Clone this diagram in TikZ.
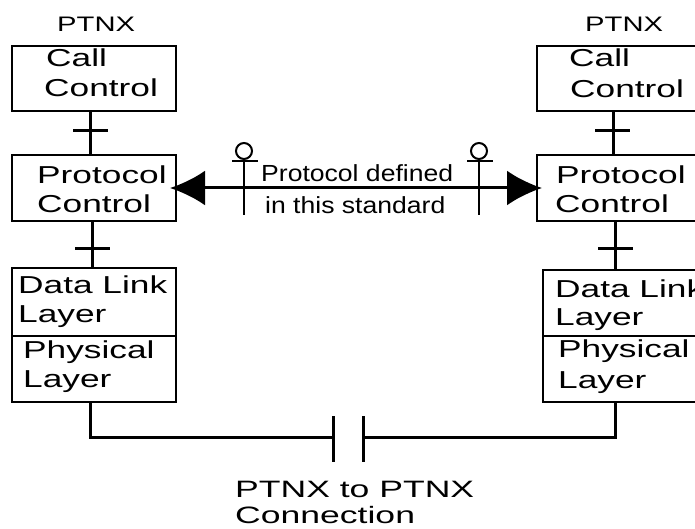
\documentclass[tikz,border=0pt]{standalone}
\usepackage{fontspec}
\setmainfont{Liberation Sans}
\newfontfamily\boxfont[FakeStretch=1.44]{Liberation Sans}
\newfontfamily\widefont[FakeStretch=1.5]{Liberation Sans}
\newfontfamily\topfont[FakeStretch=1.39]{Liberation Sans}
\newfontfamily\tightfont[FakeStretch=1.14]{Liberation Sans}
\usetikzlibrary{arrows.meta}
\begin{document}
\begin{tikzpicture}[x=1pt,y=-1pt,
  box/.style={draw,line width=2pt,inner sep=0pt,outer sep=0pt,anchor=north west},
  conn/.style={line width=3pt},
  thin/.style={line width=2.2pt},
  lbl/.style={anchor=base west,inner sep=0pt,font=\boxfont\fontsize{24.5}{24.5}\selectfont},
  toplbl/.style={anchor=base west,inner sep=0pt,font=\topfont\fontsize{21}{21}\selectfont},
  botlbl/.style={anchor=base west,inner sep=0pt,font=\widefont\fontsize{23.7}{23.7}\selectfont},
  midlbl/.style={anchor=base west,inner sep=0pt,font=\tightfont\fontsize{23.3}{23.3}\selectfont},
  head/.style={draw,circle,line width=2pt,minimum size=16pt,inner sep=0pt}]
\useasboundingbox (0,0) rectangle (695,529);
\clip (0,0) rectangle (695,529);
\fill[white] (0,0) rectangle (695,529);

% ---------- left stack ----------
\node[toplbl] (lptnx) at (57,32) {PTNX};
\node[box,minimum width=164pt,minimum height=65pt] (lcc) at (12,46) {};
\node[lbl] (lcc1) at (46,67) {Call};
\node[lbl] (lcc2) at (44,97) {Control};
\node[box,minimum width=164pt,minimum height=66pt] (lpc) at (12,155) {};
\node[lbl] (lpc1) at (37,184) {Protocol};
\node[lbl] (lpc2) at (37,213) {Control};
\node[box,minimum width=164pt,minimum height=68pt] (ldl) at (12,268) {};
\node[lbl] (ldl1) at (18,293) {Data Link};
\node[lbl] (ldl2) at (18,322) {Layer};
\node[box,minimum width=164pt,minimum height=66pt] (lph) at (12,336) {};
\node[lbl] (lph1) at (23,358) {Physical};
\node[lbl] (lph2) at (23,387) {Layer};

\draw[conn] (90,0 |- lcc.south) -- (90,0 |- lpc.north);
\draw[conn] (73,131) -- (108,131);
\draw[conn] (92,0 |- lpc.south) -- (92,0 |- ldl.north);
\draw[conn] (75,248) -- (110,248);

% ---------- right stack ----------
\node[toplbl] (rptnx) at (585,32) {PTNX};
\node[box,minimum width=164pt,minimum height=65pt] (rcc) at (537,46) {};
\node[lbl] (rcc1) at (569,67) {Call};
\node[lbl] (rcc2) at (570,98) {Control};
\node[box,minimum width=164pt,minimum height=66pt] (rpc) at (537,155) {};
\node[lbl] (rpc1) at (556,184) {Protocol};
\node[lbl] (rpc2) at (555,213) {Control};
\node[box,minimum width=164pt,minimum height=66pt] (rdl) at (543,270) {};
\node[lbl] (rdl1) at (555,297) {Data Link};
\node[lbl] (rdl2) at (555,325) {Layer};
\node[box,minimum width=164pt,minimum height=66pt] (rph) at (543,336) {};
\node[lbl] (rph1) at (558,357) {Physical};
\node[lbl] (rph2) at (558,388) {Layer};

\draw[conn] (613,0 |- rcc.south) -- (613,0 |- rpc.north);
\draw[conn] (595,131) -- (630,131);
\draw[conn] (615,0 |- rpc.south) -- (615,0 |- rdl.north);
\draw[conn] (598,248) -- (633,248);

% ---------- protocol arrow ----------
\coordinate (al) at (170,188);
\coordinate (ar) at (542,188);
\draw[conn,{Latex[length=35pt,width=35pt]}-{Latex[length=35pt,width=35pt]}] (al) -- (ar);

\node[head] (lh) at (244,151) {};
\draw[thin] (232,161) -- (258,161);
\draw[thin] (lh.south) -- (244,215);
\node[head] (rh) at (479,151) {};
\draw[thin] (467,161) -- (493,161);
\draw[thin] (rh.south) -- (479,215);

\node[midlbl] (pd1) at (261,182) {Protocol defined};
\node[midlbl] (pd2) at (265,214) {in this standard};

% ---------- physical connection ----------
\coordinate (cl) at (333,437);
\coordinate (cr) at (363,437);
\draw[conn] (90,0 |- lph.south) |- (cl);
\draw[conn] (615,0 |- rph.south) |- (cr);
\draw[conn] (333,416) -- (333,462);
\draw[conn] (363,416) -- (363,462);

\node[botlbl] (pp1) at (235,497) {PTNX to PTNX};
\node[botlbl] (pp2) at (235,523) {Connection};
\end{tikzpicture}
\end{document}
